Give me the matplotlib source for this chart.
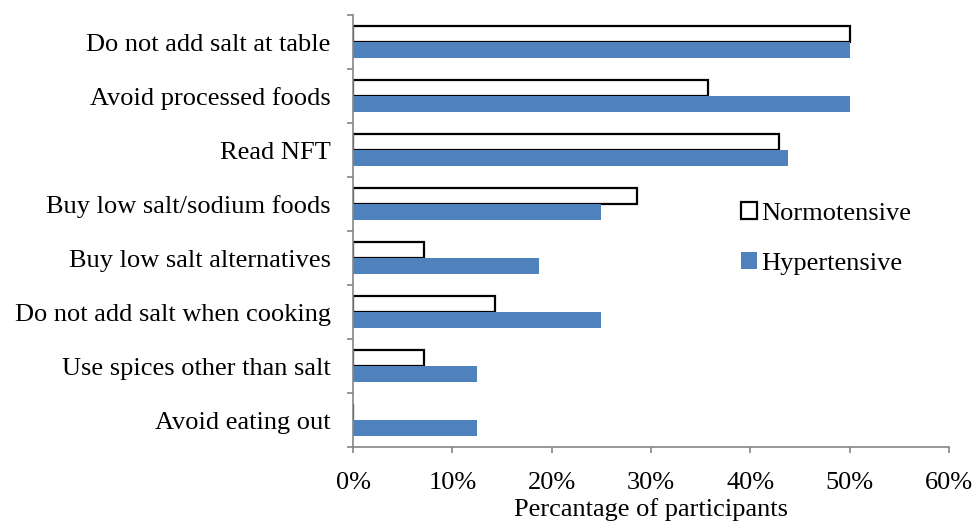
import matplotlib.pyplot as plt
import numpy as np

plt.rcParams["font.family"] = ["Liberation Serif", "DejaVu Serif"]

strategies = [
    "Do not add salt at table",
    "Avoid processed foods",
    "Read NFT",
    "Buy low salt/sodium foods",
    "Buy low salt alternatives",
    "Do not add salt when cooking",
    "Use spices other than salt",
    "Avoid eating out",
]
normotensive = [50.0, 35.7, 42.9, 28.6, 7.1, 14.3, 7.1, 0.0]
hypertensive = [50.0, 50.0, 43.75, 25.0, 18.75, 25.0, 12.5, 12.5]
x_ticks = [0, 10, 20, 30, 40, 50, 60]

AXIS_GREY = "#868686"
BLUE = "#4F81BD"
FONT_SIZE = 19


def main() -> None:
    fig = plt.figure(figsize=(9.76, 5.29), dpi=100)
    ax = fig.add_axes([0.3617, 0.155, 0.6106, 0.8165])

    y = np.arange(len(strategies))
    bar_h = 0.29

    ax.barh(
        y - bar_h / 2,
        normotensive,
        height=bar_h,
        color="white",
        edgecolor="black",
        linewidth=1.6,
        label="Normotensive",
    )
    ax.barh(
        y + bar_h / 2,
        hypertensive,
        height=bar_h,
        color=BLUE,
        label="Hypertensive",
    )

    ax.set_ylim(len(strategies) - 0.5, -0.5)
    ax.set_xlim(0, 60)

    ax.set_yticks(y)
    ax.set_yticklabels(strategies, fontsize=FONT_SIZE)
    ax.set_yticks(np.arange(len(strategies) + 1) - 0.5, minor=True)
    ax.tick_params(axis="y", which="major", length=0, pad=16)
    ax.tick_params(
        axis="y", which="minor", length=4, width=1.2, color=AXIS_GREY
    )

    ax.set_xticks(x_ticks)
    ax.set_xticklabels([f"{t}%" for t in x_ticks], fontsize=FONT_SIZE)
    ax.tick_params(
        axis="x", length=4, width=1.2, color=AXIS_GREY, pad=14
    )
    ax.set_xlabel("Percantage of participants", fontsize=FONT_SIZE, labelpad=3)

    for side in ("top", "right"):
        ax.spines[side].set_visible(False)
    for side in ("left", "bottom"):
        ax.spines[side].set_color(AXIS_GREY)
        ax.spines[side].set_linewidth(1.2)

    ax.legend(
        loc="center left",
        bbox_to_anchor=(0.651, 0.483),
        frameon=False,
        fontsize=FONT_SIZE,
        borderpad=0,
        borderaxespad=0,
        handlelength=0.6,
        handleheight=0.6,
        handletextpad=0.15,
        labelspacing=1.03,
    )

    fig.savefig("out.png", dpi=100)
    plt.close(fig)


if __name__ == "__main__":
    main()
